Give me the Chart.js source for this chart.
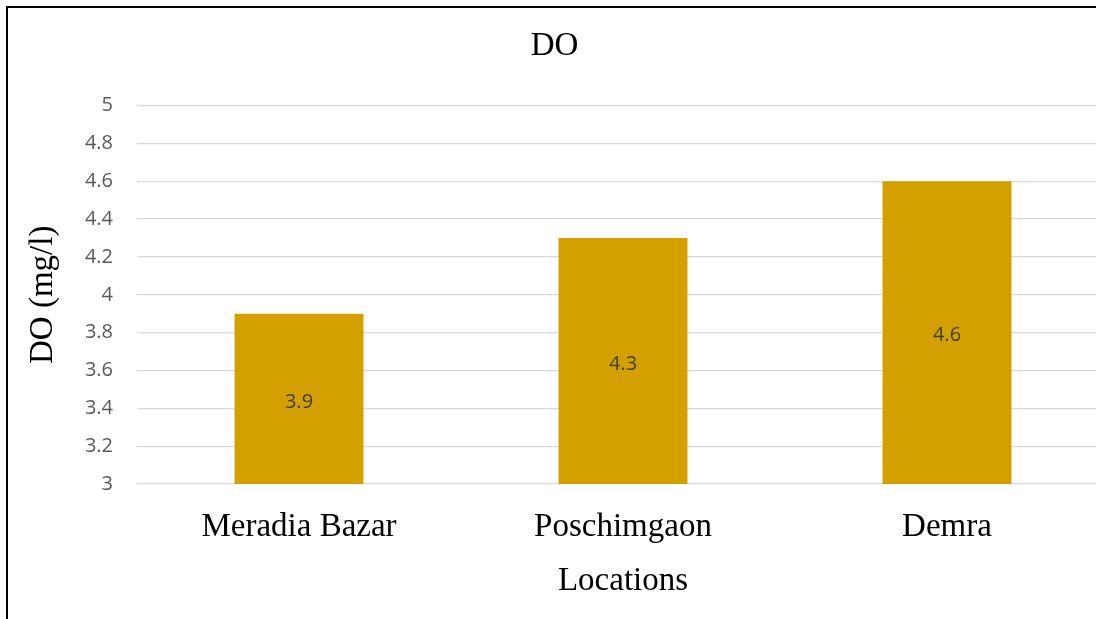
<!DOCTYPE html>
<html>
<head>
<meta charset="utf-8">
<script src="https://cdn.jsdelivr.net/npm/chart.js@4"></script>
<style>
  html, body { margin: 0; padding: 0; background: #fff; overflow: hidden; }
  body { width: 1096px; height: 619px; position: relative; }
  #frame { position: absolute; left: 6px; top: 6px; width: 1200px; height: 700px;
           border-left: 2px solid #000; border-top: 2px solid #000; }
  #wrap { position: absolute; left: 0; top: 0; width: 1109px; height: 619px; }
</style>
</head>
<body>
<div id="frame"></div>
<div id="wrap"><canvas id="chart"></canvas></div>
<script>
// datos
const locations = ['Meradia Bazar', 'Poschimgaon', 'Demra'];
const doValues = [3.9, 4.3, 4.6];
const yMin = 3, yMax = 5, yStep = 0.2;

const serif = "'Liberation Serif', 'Times New Roman', serif";
const sans = "'Open Sans', 'Liberation Sans', sans-serif";

// etiquetas en el centro de la parte visible de cada barra
const barLabels = {
    id: 'barLabels',
    afterDatasetsDraw(chart) {
        const ctx = chart.ctx;
        const bottom = chart.scales.y.getPixelForValue(yMin);
        ctx.save();
        ctx.font = "20px " + sans;
        ctx.fillStyle = '#404040';
        ctx.textAlign = 'center';
        ctx.textBaseline = 'middle';
        chart.getDatasetMeta(0).data.forEach((bar, i) => {
            ctx.fillText(String(doValues[i]), bar.x, (bar.y + bottom) / 2 + 3);
        });
        ctx.restore();
    }
};

new Chart(document.getElementById('chart'), {
    type: 'bar',
    data: {
        labels: locations,
        datasets: [{
            label: 'DO',
            data: doValues,
            backgroundColor: '#D4A000',
            categoryPercentage: 1,
            barPercentage: 0.398
        }]
    },
    options: {
        responsive: true,
        maintainAspectRatio: false,
        animation: false,
        layout: { padding: 0 },
        plugins: {
            legend: { display: false },
            tooltip: { enabled: false },
            title: {
                display: true,
                text: 'DO',
                color: '#000',
                font: { family: serif, size: 33, weight: 'normal' },
                padding: { top: 27, bottom: 39 }
            }
        },
        scales: {
            x: {
                grid: { display: false },
                border: { display: false },
                ticks: { color: '#000', padding: 16, font: { family: serif, size: 33 } },
                title: {
                    display: true,
                    text: 'Locations',
                    color: '#000',
                    font: { family: serif, size: 33 },
                    padding: { top: 0, bottom: 18 }
                },
                afterFit: (s) => { s.height = 135; }
            },
            y: {
                min: yMin,
                max: yMax,
                border: { display: false },
                grid: { color: '#D9D9D9', lineWidth: 1.3, drawTicks: false },
                ticks: {
                    stepSize: yStep,
                    color: '#595959',
                    padding: 24,
                    font: { family: sans, size: 20 },
                    callback: (v) => String(+Number(v).toFixed(1))
                },
                title: {
                    display: true,
                    text: 'DO (mg/l)',
                    color: '#000',
                    font: { family: serif, size: 33 },
                    padding: { top: 24, bottom: 0 }
                },
                afterFit: (s) => { s.width = 137; }
            }
        }
    },
    plugins: [barLabels]
});
</script>
</body>
</html>
